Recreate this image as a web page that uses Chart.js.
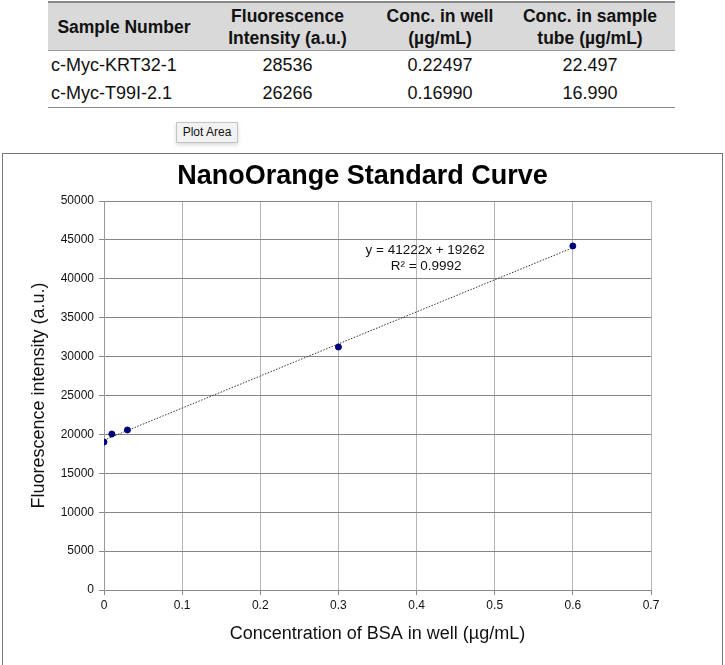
<!DOCTYPE html>
<html>
<head>
<meta charset="utf-8">
<script src="https://cdn.jsdelivr.net/npm/chart.js@4/dist/chart.umd.min.js"></script>
<style>
  html, body { margin:0; padding:0; background:#fff; width:725px; height:665px; overflow:hidden; font-family:"Liberation Sans", Arial, sans-serif; }
  #tbl { position:absolute; left:48px; top:1px; width:627px; border-collapse:collapse; font-family:"Liberation Sans", Arial, sans-serif; }
  #tbl th { background:#d9d9d9; font-weight:bold; font-size:17.5px; line-height:22px; height:47px; padding:0; text-align:center; color:#111; border-top:2px solid #888; border-bottom:1px solid #999; }
  #tbl td { font-size:18px; height:28px; padding:0; text-align:center; color:#111; }
  #tbl td.name { text-align:left; padding-left:3px; }
  #tbl tr:last-child td { border-bottom:1px solid #888; }
  #tip { position:absolute; left:176px; top:122px; width:60px; height:19px; background:#f2f2f2; border:1px solid #c4c4c4; font-size:12px; line-height:19px; text-align:center; color:#111; box-shadow:0 2px 4px rgba(0,0,0,0.15); z-index:2; }
  #box { position:absolute; left:2px; top:153px; width:719px; height:530px; border:1px solid #777; }
  #cv { position:absolute; left:3px; top:154px; }
</style>
</head>
<body>
<table id="tbl"></table>
<div id="tip">Plot Area</div>
<div id="box"></div>
<div id="cv" style="width:719px;height:511px;"><canvas id="c"></canvas></div>
<script>
// ---- table data ----
const tableHeaders = ["Sample Number", "Fluorescence<br>Intensity (a.u.)", "Conc. in well<br>(µg/mL)", "Conc. in sample<br>tube (µg/mL)"];
const sampleNames = ["c-Myc-KRT32-1", "c-Myc-T99I-2.1"];
const sampleIntensity = ["28536", "26266"];
const sampleConcWell = ["0.22497", "0.16990"];
const sampleConcTube = ["22.497", "16.990"];

// ---- chart data ----
const chartTitle = "NanoOrange Standard Curve";
const bsaConc = [0, 0.01, 0.03, 0.3, 0.6];
const fluorescence = [19020, 20050, 20570, 31230, 44220];
const trendX = [0, 0.6];
const trendY = [19262, 43995];
const equationLines = ["y = 41222x + 19262", "R² = 0.9992"];
const xTicks = [0, 0.1, 0.2, 0.3, 0.4, 0.5, 0.6, 0.7];
const yTicks = [0, 5000, 10000, 15000, 20000, 25000, 30000, 35000, 40000, 45000, 50000];

// build table
const colW = [152, 175, 130, 170];
let html = "<colgroup>" + colW.map(w => `<col style="width:${w}px">`).join("") + "</colgroup>";
html += "<tr>" + tableHeaders.map(h => `<th>${h}</th>`).join("") + "</tr>";
for (let i = 0; i < sampleNames.length; i++) {
  html += `<tr><td class="name">${sampleNames[i]}</td><td>${sampleIntensity[i]}</td><td>${sampleConcWell[i]}</td><td>${sampleConcTube[i]}</td></tr>`;
}
document.getElementById("tbl").innerHTML = html;

const FONT = "'Liberation Sans', Arial, sans-serif";

const eqPlugin = {
  id: 'eq',
  afterDatasetsDraw(chart) {
    const {ctx, scales} = chart;
    const x = scales.x.getPixelForValue(0.411);
    const y0 = scales.y.getPixelForValue(43650);
    ctx.save();
    ctx.fillStyle = '#111';
    ctx.font = "13.5px " + FONT;
    ctx.textAlign = 'center';
    ctx.textBaseline = 'middle';
    ctx.fillText(equationLines[0], x, y0);
    ctx.fillText(equationLines[1], x + 1, y0 + 16);
    ctx.restore();
  },
  afterDraw(chart) {
    const {ctx, width} = chart;
    ctx.save();
    ctx.fillStyle = '#000';
    ctx.font = "bold 27px " + FONT;
    ctx.textAlign = 'center';
    ctx.textBaseline = 'middle';
    ctx.fillText(chartTitle, width / 2, 23);
    ctx.restore();
  }
};

new Chart(document.getElementById('c'), {
  type: 'scatter',
  data: {
    datasets: [
      {
        type: 'line',
        data: trendX.map((x, i) => ({x, y: trendY[i]})),
        borderColor: '#333',
        borderWidth: 1,
        borderDash: [1.5, 1.5],
        pointRadius: 0,
        fill: false,
        order: 2
      },
      {
        data: bsaConc.map((x, i) => ({x, y: fluorescence[i]})),
        backgroundColor: '#00007a',
        borderColor: '#00007a',
        pointRadius: 3,
        pointHoverRadius: 3,
        order: 1
      }
    ]
  },
  options: {
    responsive: true,
    maintainAspectRatio: false,
    animation: false,
    events: [],
    layout: { padding: { left: 0, right: 71, top: 47, bottom: 20 } },
    plugins: {
      legend: { display: false },
      tooltip: { enabled: false },
      title: { display: false }
    },
    scales: {
      x: {
        type: 'linear',
        min: 0, max: 0.7,
        afterBuildTicks: (s) => { s.ticks = xTicks.map(v => ({value: v})); },
        afterFit: (s) => { s.height = 55; },
        ticks: { color: '#111', font: { family: FONT, size: 12 }, padding: 3, maxRotation: 0,
                 callback: (v) => String(v) },
        grid: { color: '#b5b5b5', lineWidth: 1, tickLength: 5, drawTicks: true, tickColor: '#888' },
        border: { color: '#888', width: 1 },
        title: { display: true, text: 'Concentration of BSA in well (µg/mL)', color: '#111',
                 font: { family: FONT, size: 18 }, padding: { top: 0, bottom: 0 } }
      },
      y: {
        type: 'linear',
        min: 0, max: 50000,
        afterBuildTicks: (s) => { s.ticks = yTicks.map(v => ({value: v})); },
        afterFit: (s) => { s.width = 101; },
        ticks: { color: '#111', font: { family: FONT, size: 12 }, padding: 5,
                 callback: (v) => String(v) },
        grid: { color: '#858585', lineWidth: 1, tickLength: 5, tickColor: '#888' },
        border: { color: '#999', width: 1 },
        title: { display: true, text: 'Fluorescence intensity (a.u.)', color: '#111',
                 font: { family: FONT, size: 18 }, padding: { top: 25, bottom: 0 } }
      }
    }
  },
  plugins: [eqPlugin]
});
</script>
</body>
</html>
